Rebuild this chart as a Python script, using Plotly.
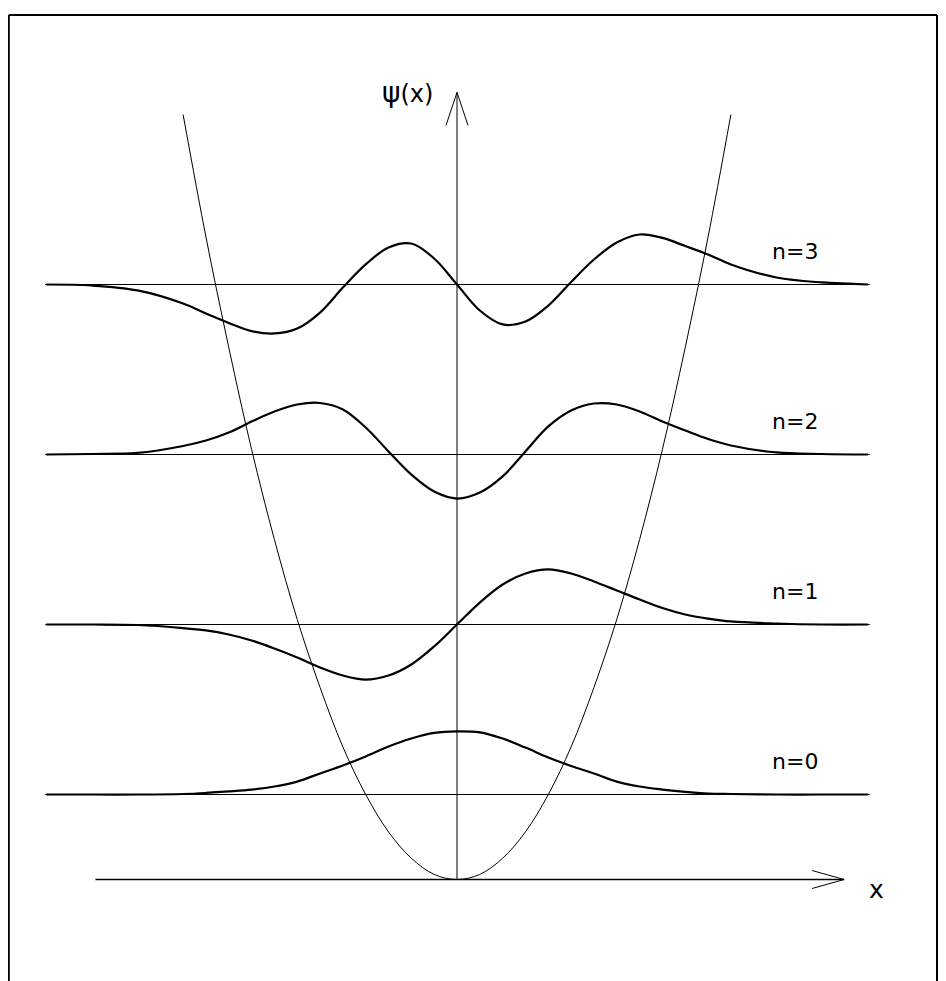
import plotly.graph_objects as go

# ---- data (x in oscillator units, y in energy units) ----
x_grid = [-4.5, -4, -3.5, -3, -2.75, -2.5, -2.25, -2, -1.75, -1.5, -1.25, -1, -0.75, -0.5, -0.25,
          0, 0.25, 0.5, 0.75, 1, 1.25, 1.5, 1.75, 2, 2.25, 2.5, 2.75, 3, 3.5, 4, 4.5]

levels = [0.5, 1.5, 2.5, 3.5]
level_labels = ["n=0", "n=1", "n=2", "n=3"]

psi_0 = [0, 0, 0, 0.003, 0.009, 0.018, 0.029, 0.047, 0.076, 0.124, 0.171, 0.224, 0.282, 0.329, 0.362,
         0.371, 0.365, 0.329, 0.276, 0.218, 0.168, 0.124, 0.076, 0.047, 0.029, 0.015, 0.006, 0.003, 0, 0, 0]
psi_1 = [0, 0, -0.003, -0.021, -0.035, -0.059, -0.094, -0.141, -0.194, -0.253, -0.300, -0.324, -0.300, -0.235, -0.129,
         0, 0.129, 0.235, 0.300, 0.324, 0.300, 0.253, 0.200, 0.147, 0.097, 0.059, 0.035, 0.018, 0.006, 0, 0]
psi_2 = [0, 0.003, 0.009, 0.050, 0.082, 0.129, 0.194, 0.253, 0.294, 0.303, 0.265, 0.159, 0.018, -0.118, -0.218,
         -0.259, -0.224, -0.129, 0.018, 0.165, 0.259, 0.300, 0.294, 0.253, 0.194, 0.141, 0.091, 0.053, 0.012, 0.003, 0]
psi_3 = [0, -0.006, -0.035, -0.112, -0.171, -0.226, -0.274, -0.288, -0.259, -0.165, -0.018, 0.118, 0.218, 0.241, 0.153,
         0, -0.153, -0.235, -0.218, -0.124, 0.015, 0.147, 0.247, 0.294, 0.274, 0.226, 0.176, 0.118, 0.041, 0.012, 0]
psi_all = [psi_0, psi_1, psi_2, psi_3]

pot_x = [-3, -2.75, -2.5, -2.25, -2, -1.75, -1.5, -1.25, -1, -0.75, -0.5, -0.25, 0,
         0.25, 0.5, 0.75, 1, 1.25, 1.5, 1.75, 2, 2.25, 2.5, 2.75, 3]
pot_v = [4.5, 3.78, 3.13, 2.53, 2.0, 1.53, 1.13, 0.78, 0.5, 0.28, 0.125, 0.03, 0,
         0.03, 0.125, 0.28, 0.5, 0.78, 1.13, 1.53, 2.0, 2.53, 3.13, 3.78, 4.5]

baseline_span = [-4.51, 4.52]
x_axis_span = [-3.96, 4.24]
y_axis_top = 4.63

# ---- figure geometry (page body adds an 8px offset) ----
W, H = 938, 973
X0_PX, Y0_PX, XU, YU = 449.0, 871.5, 91.3, 170.0
X_RANGE = [-X0_PX / XU, (W - X0_PX) / XU]
Y_RANGE = [(Y0_PX - H) / YU, Y0_PX / YU]

fig = go.Figure()

# potential
fig.add_trace(go.Scatter(x=pot_x, y=pot_v, mode="lines", line=dict(color="black", width=1, shape="spline"),
                         hoverinfo="skip"))

# energy levels and wavefunctions
for lev, psi in zip(levels, psi_all):
    fig.add_trace(go.Scatter(x=baseline_span, y=[lev, lev], mode="lines",
                             line=dict(color="black", width=1.2), hoverinfo="skip"))
    fig.add_trace(go.Scatter(x=x_grid, y=[lev + p for p in psi], mode="lines",
                             line=dict(color="black", width=2.2, shape="spline", smoothing=1.0),
                             hoverinfo="skip"))

# x axis with open arrowhead
ah_len_x, ah_half_x = 32 / XU, 9 / YU
fig.add_trace(go.Scatter(x=x_axis_span, y=[0, 0], mode="lines", line=dict(color="black", width=1.3),
                         hoverinfo="skip"))
fig.add_trace(go.Scatter(x=[x_axis_span[1] - ah_len_x, x_axis_span[1], x_axis_span[1] - ah_len_x],
                         y=[ah_half_x, 0, -ah_half_x], mode="lines", line=dict(color="black", width=1),
                         hoverinfo="skip"))

# psi axis with open arrowhead
ah_len_y, ah_half_y = 33 / YU, 11 / XU
fig.add_trace(go.Scatter(x=[0, 0], y=[0, y_axis_top], mode="lines", line=dict(color="black", width=1),
                         hoverinfo="skip"))
fig.add_trace(go.Scatter(x=[-ah_half_y, 0, ah_half_y], y=[y_axis_top - ah_len_y, y_axis_top, y_axis_top - ah_len_y],
                         mode="lines", line=dict(color="black", width=1), hoverinfo="skip"))

FONT = "DejaVu Sans, Liberation Sans, Arial"
annotations = []
for lev, lab in zip(levels, level_labels):
    annotations.append(dict(x=3.43, y=lev + 0.195, text=lab, showarrow=False, xanchor="left", yanchor="middle",
                            font=dict(family=FONT, size=22, color="black")))
annotations.append(dict(x=4.6, y=-0.056, text="x", showarrow=False, xanchor="center", yanchor="middle",
                        font=dict(family=FONT, size=25, color="black")))
annotations.append(dict(x=-0.54, y=4.63,
                        text="<span style='font-size:28px'>ψ</span><span style='font-size:24px'>(x)</span>",
                        showarrow=False, xanchor="center", yanchor="middle",
                        font=dict(family=FONT, size=24, color="black")))

# frame (top, left, right edges)
frame_top, frame_left, frame_right = 1 - 7 / H, 0.8 / W, 929 / W
shapes = [
    dict(type="line", xref="paper", yref="paper", x0=frame_left, x1=frame_right, y0=frame_top, y1=frame_top,
         line=dict(color="black", width=2)),
    dict(type="line", xref="paper", yref="paper", x0=frame_left, x1=frame_left, y0=0, y1=frame_top,
         line=dict(color="black", width=2)),
    dict(type="line", xref="paper", yref="paper", x0=frame_right, x1=frame_right, y0=0, y1=frame_top,
         line=dict(color="black", width=2)),
]

fig.update_layout(
    width=W, height=H, margin=dict(l=0, r=0, t=0, b=0),
    paper_bgcolor="white", plot_bgcolor="white", showlegend=False,
    xaxis=dict(range=X_RANGE, visible=False, fixedrange=True),
    yaxis=dict(range=Y_RANGE, visible=False, fixedrange=True),
    annotations=annotations, shapes=shapes,
)

fig.write_html("out.html")
